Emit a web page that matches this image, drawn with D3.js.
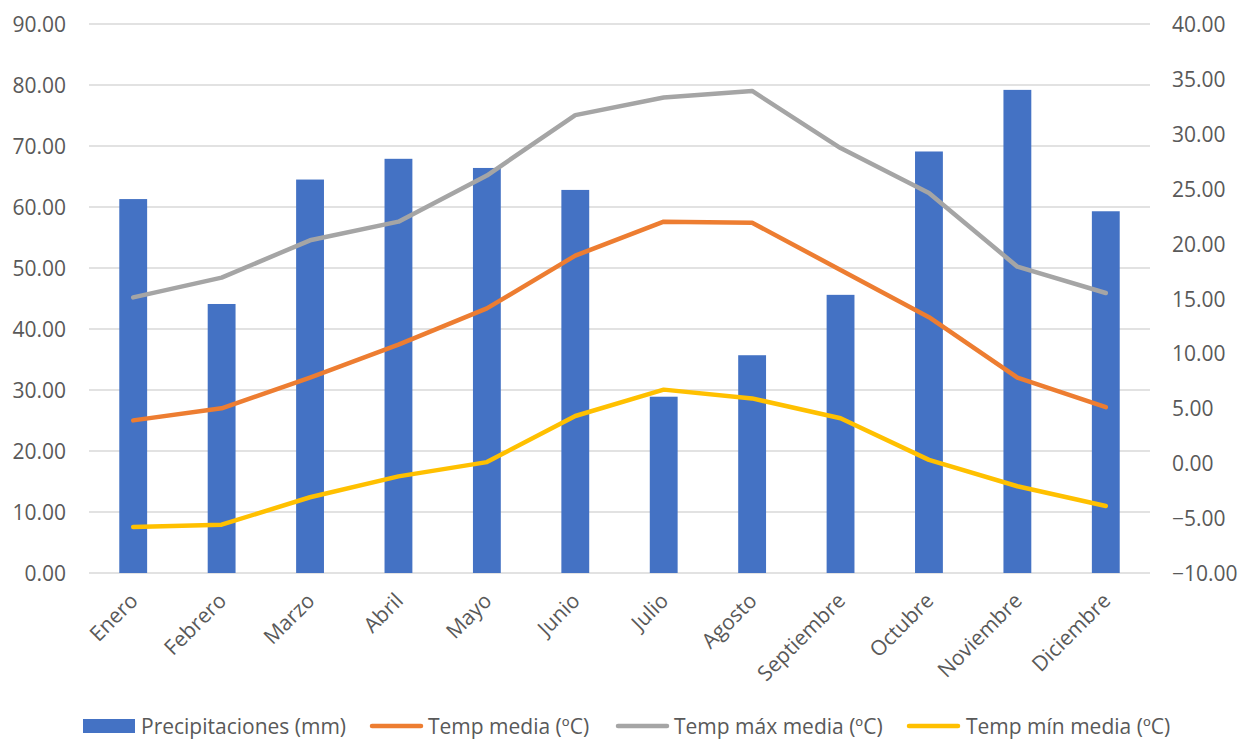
<!DOCTYPE html>
<html>
<head>
<meta charset="utf-8">
<script src="https://cdn.jsdelivr.net/npm/d3@7"></script>
<style>
  html, body { margin: 0; padding: 0; background: #fff; }
  svg text { font-family: "Open Sans", "Noto Sans", sans-serif; fill: #595959; }
</style>
</head>
<body>
<svg id="chart" width="1248" height="740"></svg>
<script>
// Monthly climate data
const months = ["Enero", "Febrero", "Marzo", "Abril", "Mayo", "Junio", "Julio",
                "Agosto", "Septiembre", "Octubre", "Noviembre", "Diciembre"];
const precip   = [61.3, 44.1, 64.5, 67.9, 66.4, 62.8, 28.9, 35.7, 45.6, 69.1, 79.2, 59.3];
const tempMed  = [3.9, 5.0, 7.8, 10.8, 14.1, 18.9, 22.0, 21.9, 17.6, 13.3, 7.8, 5.1];
const tempMax  = [15.1, 16.9, 20.3, 22.0, 26.2, 31.7, 33.3, 33.9, 28.7, 24.6, 17.9, 15.5];
const tempMin  = [-5.8, -5.6, -3.1, -1.2, 0.1, 4.3, 6.7, 5.9, 4.1, 0.3, -2.1, -3.9];
const leftTicks  = [0, 10, 20, 30, 40, 50, 60, 70, 80, 90];
const rightTicks = [-10, -5, 0, 5, 10, 15, 20, 25, 30, 35, 40];

const lineSeries = [
  { name: "Temp media (ºC)",     values: tempMed, color: "#ED7D31" },
  { name: "Temp máx media (ºC)", values: tempMax, color: "#A5A5A5" },
  { name: "Temp mín media (ºC)", values: tempMin, color: "#FFC000" }
];

const FONT = 21;
const svg = d3.select("#chart");
const plot = { left: 89, right: 1150, top: 24, bottom: 573 };

const x = d3.scaleBand().domain(months).range([plot.left, plot.right]).paddingInner(0.685).paddingOuter(0.3425);
const xc = d => x(d) + x.bandwidth() / 2;
const yL = d3.scaleLinear().domain([0, 90]).range([plot.bottom, plot.top]);
const yR = d3.scaleLinear().domain([-10, 40]).range([plot.bottom, plot.top]);

// Gridlines
svg.append("g").selectAll("line").data(leftTicks).join("line")
  .attr("x1", plot.left).attr("x2", plot.right)
  .attr("y1", d => yL(d)).attr("y2", d => yL(d))
  .attr("stroke", "#D9D9D9").attr("stroke-width", 1.3);

// Left axis
const axL = svg.append("g").attr("transform", `translate(${plot.left - 23},0)`)
  .call(d3.axisLeft(yL).tickValues(leftTicks).tickFormat(d3.format(".2f")).tickSize(0).tickPadding(0));
axL.select(".domain").remove();
axL.selectAll("text").attr("font-size", FONT).style("fill", "#595959").attr("dy", "0.36em");

// Right axis
const axR = svg.append("g").attr("transform", `translate(${plot.right + 22},0)`)
  .call(d3.axisRight(yR).tickValues(rightTicks).tickFormat(d3.format(".2f")).tickSize(0).tickPadding(0));
axR.select(".domain").remove();
axR.selectAll("text").attr("font-size", FONT).style("fill", "#595959").attr("dy", "0.36em");

// Bars
svg.append("g").selectAll("rect").data(months).join("rect")
  .attr("x", d => x(d))
  .attr("width", x.bandwidth())
  .attr("y", (d, i) => yL(precip[i]))
  .attr("height", (d, i) => yL(0) - yL(precip[i]))
  .attr("fill", "#4472C4");

// Lines
const line = d3.line().x((d, i) => xc(months[i])).y(d => yR(d));
svg.append("g").selectAll("path").data(lineSeries).join("path")
  .attr("d", s => line(s.values))
  .attr("fill", "none")
  .attr("stroke", s => s.color)
  .attr("stroke-width", 4.5)
  .attr("stroke-linejoin", "round")
  .attr("stroke-linecap", "round");

// Category labels
svg.append("g").selectAll("text").data(months).join("text")
  .attr("transform", d => `translate(${xc(d) + 6},${plot.bottom + 29}) rotate(-45)`)
  .attr("text-anchor", "end")
  .attr("font-size", FONT)
  .text(d => d);

// Legend
const legendY = 726;
const legend = svg.append("g");
const items = [
  { name: "Precipitaciones (mm)", color: "#4472C4", type: "rect", sx: 83,  tx: 141 },
  { name: lineSeries[0].name, color: lineSeries[0].color, type: "line", sx: 370, tx: 428 },
  { name: lineSeries[1].name, color: lineSeries[1].color, type: "line", sx: 616, tx: 674 },
  { name: lineSeries[2].name, color: lineSeries[2].color, type: "line", sx: 907, tx: 966 }
];
items.forEach(it => {
  if (it.type === "rect") {
    legend.append("rect").attr("x", it.sx).attr("y", legendY - 7).attr("width", 52).attr("height", 14).attr("fill", it.color);
  } else {
    legend.append("line").attr("x1", it.sx + 2).attr("x2", it.sx + 51).attr("y1", legendY).attr("y2", legendY)
      .attr("stroke", it.color).attr("stroke-width", 4.5).attr("stroke-linecap", "round");
  }
  legend.append("text").attr("x", it.tx).attr("y", legendY).attr("dy", "0.36em")
    .attr("font-size", FONT).text(it.name);
});
</script>
</body>
</html>
